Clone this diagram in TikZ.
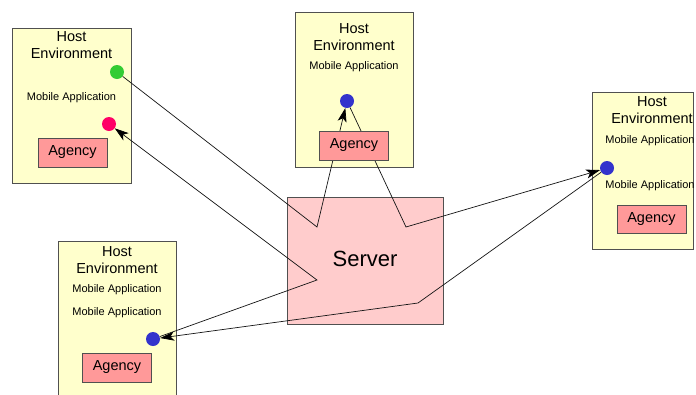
\documentclass[tikz,border=0pt]{standalone}
\usepackage{fontspec}
\setmainfont{Liberation Sans}
\usetikzlibrary{arrows.meta}
\definecolor{hostfill}{RGB}{255,255,204}
\definecolor{agencyfill}{RGB}{255,153,153}
\definecolor{serverfill}{RGB}{255,204,204}
\definecolor{edgegray}{RGB}{80,80,80}
\definecolor{wiregray}{RGB}{20,20,20}
\definecolor{dotgreen}{RGB}{51,204,51}
\definecolor{dotred}{RGB}{255,0,102}
\definecolor{dotblue}{RGB}{51,51,204}
\begin{document}
\begin{tikzpicture}[x=1pt,y=-1pt,
  hostbox/.style={draw=edgegray, fill=hostfill, line width=0.9pt, anchor=north west, inner sep=0pt},
  hosttitle/.style={align=center, font=\fontsize{14.5}{17}\selectfont, inner sep=0pt},
  appname/.style={font=\fontsize{11}{12}\selectfont, inner sep=0pt},
  agencybox/.style={draw=edgegray, fill=agencyfill, line width=0.8pt, minimum width=69pt, minimum height=29pt, inner sep=0pt, font=\fontsize{14.5}{14}\selectfont},
  agentdot/.style={circle, minimum size=14pt, inner sep=0pt, draw=none},
  wire/.style={draw=wiregray, line width=0.7pt},
  hop/.style={wire, -{Stealth[length=14pt,width=9pt,inset=3.5pt,black]}}]
\clip (0,0) rectangle (696,394);
\fill[white] (0,0) rectangle (696,394);

% server
\node[draw=edgegray, fill=serverfill, line width=0.9pt, anchor=north west, minimum width=156pt, minimum height=127pt, inner sep=0pt] (server) at (287,197) {};
\node[font=\fontsize{22}{22}\selectfont] (serverlabel) at (365,259) {Server};

% host environments
\node[hostbox, minimum width=119pt, minimum height=155pt] (hostA) at (12,28) {};
\node[hosttitle] (hostAt) at (71.5,45) {Host\\Environment};
\node[appname] (hostAm) at (71.5,98) {Mobile Application};

\node[hostbox, minimum width=118pt, minimum height=155pt] (hostB) at (295,12) {};
\node[hosttitle] (hostBt) at (354,37) {Host\\Environment};
\node[appname] (hostBm) at (354,67) {Mobile Application};

\node[hostbox, minimum width=101pt, minimum height=157pt] (hostC) at (592,92) {};
\node[hosttitle] (hostCt) at (652,110) {Host\\Environment};
\node[appname] (hostCm1) at (650,141) {Mobile Application};
\node[appname] (hostCm2) at (650,186) {Mobile Application};

\node[hostbox, minimum width=118pt, minimum height=170pt] (hostD) at (58,241) {};
\node[hosttitle] (hostDt) at (117,260.5) {Host\\Environment};
\node[appname] (hostDm1) at (117,290) {Mobile Application};
\node[appname] (hostDm2) at (117,313) {Mobile Application};

% mobile agents
\node[agentdot, fill=dotgreen] (green) at (117,72) {};
\node[agentdot, fill=dotred] (red) at (109,124) {};
\node[agentdot, fill=dotblue] (blueB) at (347,101) {};
\node[agentdot, fill=dotblue] (blueC) at (607,168) {};
\node[agentdot, fill=dotblue] (blueD) at (153,339) {};

% routing points inside the server
\coordinate (r1) at (317,227);
\coordinate (r2) at (406,227);
\coordinate (r3) at (418,303);
\coordinate (r4) at (317,280);

% migration paths
\draw[hop] (green) -- (r1) -- (blueB);
\draw[hop] (blueB) -- (r2) -- (blueC);
\draw[hop] (blueC) -- (r3) -- (blueD);
\draw[hop] (blueD) -- (r4) -- (red);

% agencies
\node[agencybox] (agA) at (72.5,152.5) {Agency};
\node[agencybox] (agB) at (354,145.5) {Agency};
\node[agencybox, minimum height=28pt] (agC) at (651.5,219) {Agency};
\node[agencybox] (agD) at (117,367.5) {Agency};
\end{tikzpicture}
\end{document}
